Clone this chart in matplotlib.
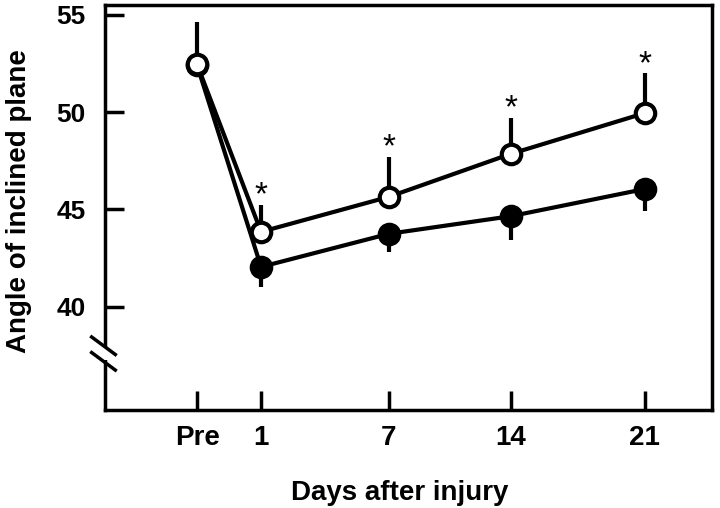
import matplotlib
matplotlib.use('Agg')
import matplotlib.pyplot as plt
from matplotlib.lines import Line2D
from matplotlib.patches import Polygon

plt.rcParams['font.family'] = ['Liberation Sans', 'DejaVu Sans']
plt.rcParams['font.weight'] = 'bold'

# data
days = ['Pre', '1', '7', '14', '21']
x_pos = [0, 1, 3, 4.9, 7]
open_mean = [52.45, 43.85, 45.65, 47.85, 49.95]
open_err = [2.2, 1.4, 2.05, 1.85, 2.05]
filled_mean = [52.4, 42.05, 43.75, 44.65, 46.05]
filled_err = [0.5, 1.05, 0.95, 1.2, 1.15]
significant = [False, True, True, True, True]

fig = plt.figure(figsize=(7.2, 5.08), dpi=100)
ax = fig.add_axes([105 / 720, 1 - 410 / 508, 607 / 720, 405 / 508])

lw = 3
ms = 14
# filled series, error bar pointing down
ax.errorbar(x_pos, filled_mean, yerr=[filled_err, [0] * 5], color='black',
            lw=lw, elinewidth=lw, capsize=0, marker='o', ms=ms,
            mfc='black', mec='black', mew=lw, zorder=3)
# open series, error bar pointing up
ax.errorbar(x_pos, open_mean, yerr=[[0] * 5, open_err], color='black',
            lw=lw, elinewidth=lw, capsize=0, marker='o', ms=ms,
            mfc='white', mec='black', mew=lw, zorder=4)

for xp, m, e, s in zip(x_pos, open_mean, open_err, significant):
    if s:
        ax.text(xp, m + e + 0.45, '*', ha='center', va='center',
                fontsize=24, fontweight='normal')

ax.set_xlim(-1.44, 8.05)
ax.set_ylim(34.7, 55.5)
ax.set_xticks(x_pos)
ax.set_xticklabels(days)
ax.set_yticks([40, 45, 50, 55])
ax.tick_params(direction='in', length=14, width=2.5)
ax.tick_params(axis='x', pad=11, labelsize=20)
ax.tick_params(axis='y', pad=14, labelsize=19)
for lab in ax.get_xticklabels() + ax.get_yticklabels():
    lab.set_fontweight('bold')
for sp in ax.spines.values():
    sp.set_linewidth(2.5)

ax.set_xlabel('Days after injury', fontsize=20, fontweight='bold')
ax.set_ylabel('Angle of inclined plane', fontsize=20, fontweight='bold')
ax.xaxis.set_label_coords(0.486, -0.172)
ax.yaxis.set_label_coords(-0.12, 0.515)

# axis break on the y axis
tr = ax.get_yaxis_transform()
yb = 37.6
dy = 0.4
gap = Polygon([(-0.02, yb - dy + 0.05), (0.02, yb - dy + 0.05),
               (0.02, yb + dy - 0.05), (-0.02, yb + dy - 0.05)],
              closed=True, facecolor='white', edgecolor='none',
              transform=tr, clip_on=False, zorder=5)
ax.add_patch(gap)
for off in (dy, -dy):
    ax.add_line(Line2D([-0.022, 0.017], [yb + off + 0.45, yb + off - 0.45],
                       color='black', lw=2.5, transform=tr, clip_on=False,
                       zorder=6))

fig.savefig('out.png', dpi=100)
